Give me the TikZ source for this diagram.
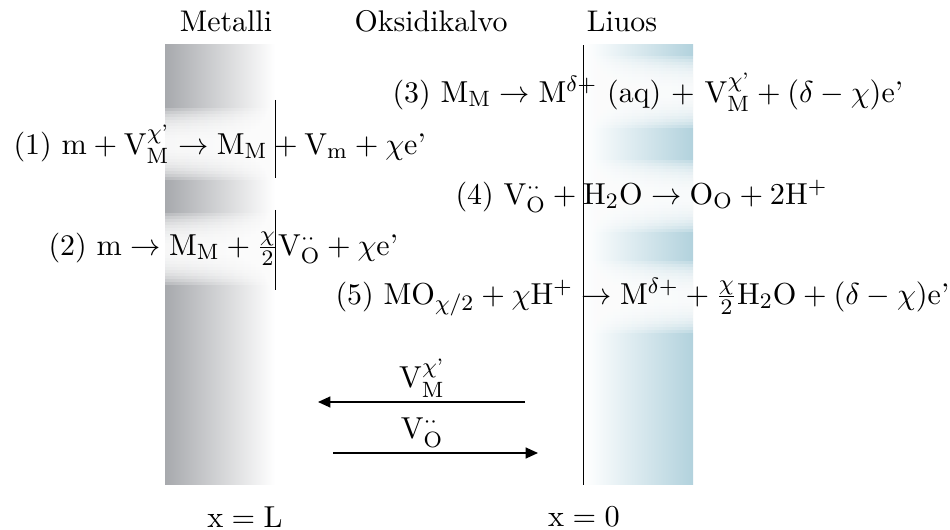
\documentclass[tikz,border=0pt]{standalone}
\usepackage{amsmath}
\usepackage{tikz}
\usepackage{xcolor}
\usetikzlibrary{arrows.meta,positioning,backgrounds}
\definecolor{MetalGrey}{HTML}{A7A9AD}
\definecolor{LiquidBlue}{HTML}{B2D2DD}
\newcommand{\up}[1]{\mathrm{#1}}
\newcommand{\vac}{\up{V}_{\up{O}}^{\cdot\cdot}}
\newcommand{\vmet}{\up{V}_{\up{M}}^{\chi\text{'}}}

\begin{document}
\begin{tikzpicture}[x=0.127cm,y=0.127cm,
  every node/.style={font=\fontsize{10.8pt}{13pt}\selectfont},
  eqn/.style={anchor=base west,inner xsep=0pt},
  migr/.style={line width=0.5pt,-{Triangle[length=4.5pt,width=4pt]}}]
  \useasboundingbox (0,0) rectangle (95,53);
  % reactions
  \node[eqn] (r3) at (39.2,42.8) {(3) $\up{M}_{\up{M}} \rightarrow \up{M}^{\delta+}$ (aq) $+\ \vmet + (\delta-\chi)\text{e'}$};
  \node[eqn] (r1) at (1.3,37.6) {(1) $\up{m} + \vmet \rightarrow \up{M}_{\up{M}} + \up{V}_{\up{m}} + \chi\text{e'}$};
  \node[eqn] (r4) at (45.5,32.6) {(4) $\vac + \up{H}_2\up{O} \rightarrow \up{O}_{\up{O}} + 2\up{H}^+$};
  \node[eqn] (r2) at (4.8,27.5) {(2) $\up{m} \rightarrow \up{M}_{\up{M}} + \frac{\chi}{2}\vac + \chi\text{e'}$};
  \node[eqn] (r5) at (33.5,22.6) {(5) $\up{MO}_{\chi/2} + \chi\up{H}^+ \rightarrow \up{M}^{\delta+} + \frac{\chi}{2}\up{H}_2\up{O} + (\delta-\chi)\text{e'}$};
  % layers, faded behind the reactions
  \begin{scope}[on background layer]
    \shade[left color=MetalGrey,right color=white] (16.5,4.5) rectangle (27.5,48.5);
    \shade[left color=white,right color=LiquidBlue] (58.5,4.5) rectangle (69.3,48.5);
    \foreach \r in {r1,r2,r3,r4,r5}
      \foreach \h in {0.6,0.9,...,3.6}
        \fill[white,fill opacity=0.22] ([yshift=-\h*0.127cm]\r.west) rectangle ([yshift=\h*0.127cm]\r.east);
  \end{scope}
  % interfaces
  \draw[line width=0.3pt] (58.3,4.5) -- (58.3,48.5);
  \draw[line width=0.3pt] (27.5,43) -- (27.5,35.2);
  \draw[line width=0.3pt] (27.5,32) -- (27.5,24);
  % headers
  \node (met) at (22.6,50.9) {Metalli};
  \node (oxi) at (43.1,50.9) {Oksidikalvo};
  \node (liq) at (62.2,50.9) {Liuos};
  % migration of defects
  \coordinate (vmA) at (52.5,12.8);
  \coordinate (vmB) at (31.8,12.8);
  \coordinate (voA) at (33.3,7.7);
  \coordinate (voB) at (53.8,7.7);
  \draw[migr] (vmA) -- (vmB);
  \draw[migr] (voA) -- (voB);
  \node (vm) at (42.2,15.2) {$\vmet$};
  \node (vo) at (42.2,9.8) {$\vac$};
  % positions
  \node (xL) at (24.5,1.3) {$\up{x} = \up{L}$};
  \node (x0) at (58.4,1.3) {$\up{x} = 0$};
\end{tikzpicture}
\end{document}
